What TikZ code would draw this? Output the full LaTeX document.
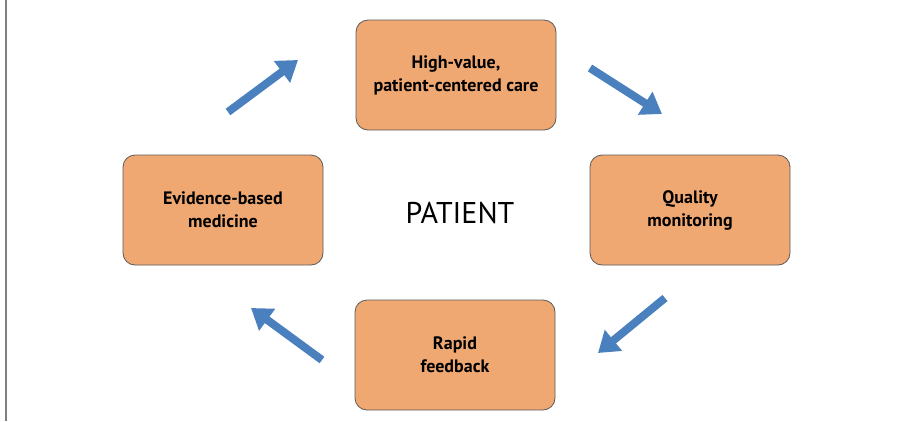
\documentclass[tikz,border=0pt]{standalone}
\usepackage{fontspec}
\setmainfont{PT Sans}
\usetikzlibrary{arrows.meta}

\definecolor{boxfill}{HTML}{F0A873}
\definecolor{boxline}{HTML}{5A5A5A}
\definecolor{cyclearrow}{HTML}{4A80BD}

\tikzset{
	stage/.style={draw=boxline,fill=boxfill,rounded corners=12pt,minimum width=200pt,minimum height=110pt,align=center,font=\fontsize{18pt}{23pt}\selectfont\bfseries,line width=0.8pt},
	cycle/.style={cyclearrow,line width=8pt,-{Triangle[length=20pt,width=26pt]}}
}

\begin{document}
\begin{tikzpicture}[x=1pt,y=-1pt]
	
	\useasboundingbox (0,0) rectangle (908,421);
	\draw[gray,line width=1.2pt] (6,0) -- (6,421);
	
	\node[stage] (hv) at (456,75) {High-value,\\patient-centered care};
	\node[stage] (qm) at (690,210) {Quality\\monitoring};
	\node[stage] (rf) at (455,355) {Rapid\\feedback};
	\node[stage] (ebm) at (223,210) {Evidence-based\\medicine};
	\node[font=\fontsize{30pt}{33pt}\selectfont] (patient) at (460,213) {PATIENT};
	
	\coordinate (a1) at (228,112); \coordinate (b1) at (298,60);
	\coordinate (a2) at (590,68);  \coordinate (b2) at (662,114);
	\coordinate (a3) at (665,298); \coordinate (b3) at (598,353);
	\coordinate (a4) at (322,360); \coordinate (b4) at (251,308);
	
	\draw[cycle] (a1) -- (b1);
	\draw[cycle] (a2) -- (b2);
	\draw[cycle] (a3) -- (b3);
	\draw[cycle] (a4) -- (b4);
\end{tikzpicture}
\end{document}
